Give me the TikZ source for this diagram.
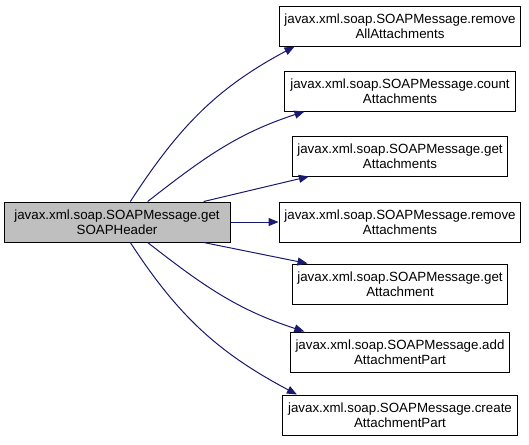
\documentclass[tikz,border=0pt]{standalone}
\usepackage{fontspec}
\setmainfont{Liberation Sans}
\usepackage{tikz}
\usetikzlibrary{arrows.meta,calc}
\definecolor{edgeblue}{HTML}{191970}
\definecolor{callgray}{HTML}{BFBFBF}

\begin{document}
\begin{tikzpicture}[
    x=0.75pt, y=-0.75pt,
    fnbox/.style={draw=black, line width=0.75pt, fill=white, align=center, minimum height=30pt,
        inner xsep=4pt, font=\fontsize{10}{11.5}\selectfont},
    callee/.style={fnbox, fill=callgray, minimum width=169.5pt},
    callarrow/.style={draw=edgeblue, line width=0.75pt, -{Triangle[length=7.5pt, width=6pt]}}
]
\useasboundingbox (0,0) rectangle (529,444);
\node[callee] (getHeader) at (117,222) {javax.xml.soap.SOAPMessage.get\\SOAPHeader};
\node[fnbox] (removeAll) at (400,26) {javax.xml.soap.SOAPMessage.remove\\AllAttachments};
\node[fnbox] (countAtt) at (400,91) {javax.xml.soap.SOAPMessage.count\\Attachments};
\node[fnbox] (getAtts) at (400,156) {javax.xml.soap.SOAPMessage.get\\Attachments};
\node[fnbox] (removeAtts) at (400,222) {javax.xml.soap.SOAPMessage.remove\\Attachments};
\node[fnbox] (getAtt) at (400,284) {javax.xml.soap.SOAPMessage.get\\Attachment};
\node[fnbox] (addPart) at (400,352) {javax.xml.soap.SOAPMessage.add\\AttachmentPart};
\node[fnbox] (createPart) at (400,415) {javax.xml.soap.SOAPMessage.create\\AttachmentPart};
% calls
\draw[callarrow] ([xshift=10pt]getHeader.north) to[out=57, in=208] ([xshift=12pt]removeAll.south west);
\draw[callarrow] ([xshift=23pt]getHeader.north) to[out=38, in=198] ([xshift=15pt]countAtt.south west);
\draw[callarrow] ([xshift=65pt]getHeader.north) -- ([xshift=13pt]getAtts.south west);
\draw[callarrow] (getHeader) -- (removeAtts);
\draw[callarrow] ([xshift=65pt]getHeader.south) -- ([xshift=12pt]getAtt.north west);
\draw[callarrow] ([xshift=23pt]getHeader.south) to[out=-38, in=162] ([xshift=11pt]addPart.north west);
\draw[callarrow] ([xshift=10pt]getHeader.south) to[out=-57, in=152] ([xshift=11pt]createPart.north west);
\end{tikzpicture}
\end{document}
